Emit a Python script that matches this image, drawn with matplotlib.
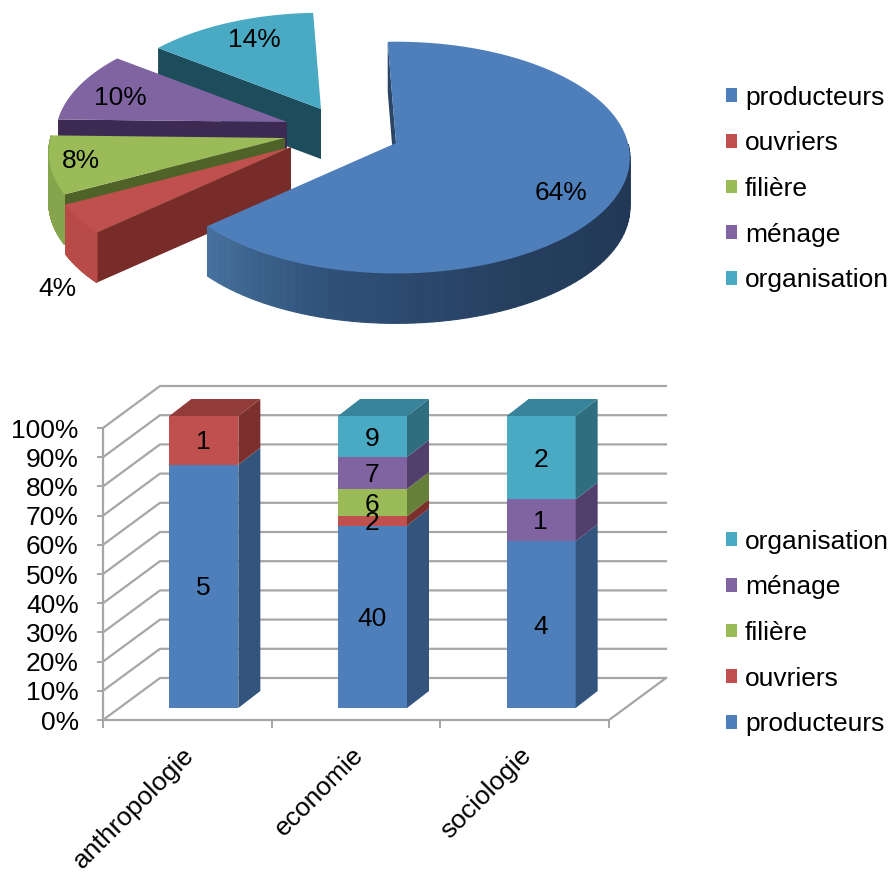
import matplotlib
matplotlib.use('Agg')
import matplotlib.pyplot as plt
import numpy as np
from matplotlib.colors import to_rgb
from matplotlib.patches import Patch, Polygon
from matplotlib.ticker import PercentFormatter
from matplotlib.transforms import ScaledTranslation

plt.rcParams['font.family'] = ['Liberation Sans', 'DejaVu Sans']

# data
series = ['producteurs', 'ouvriers', 'filière', 'ménage', 'organisation']
pie_values = [64, 4, 8, 10, 14]
disciplines = ['anthropologie', 'economie', 'sociologie']
producteurs = [5, 40, 4]
ouvriers = [1, 2, 0]
filiere = [0, 6, 0]
menage = [0, 7, 1]
organisation = [0, 9, 2]
bar_counts = [producteurs, ouvriers, filiere, menage, organisation]

# colours per series
top_col = ['#4f7fbb', '#c0504d', '#9bbb59', '#8064a2', '#4aaac4']
pie_side = ['#2a4566', '#772c2a', '#4f6228', '#3d2a52', '#1d4c5b']
pie_rim = ['#2a4566', '#b84b48', '#86a44c', '#3d2a52', '#1d4c5b']
bar_side = ['#33547d', '#7b302d', '#667f39', '#533f6e', '#2f6e80']
bar_top = ['#33547d', '#923c39', '#667f39', '#533f6e', '#37839a']
grid_col = '#a6a6a6'

W, H = 895, 872
FS = 19

# pie layout, pixels
RX, RY, K = 232, 114, 0.1255
THICK = 50
START = -2.3
pie_apex = [(396, 143), (291, 147), (285, 138), (287, 122), (321, 109)]
pie_scale = [1, 1.03, 1.01, 0.99, 0.95]
pie_label_pos = [(561, 193), (57, 289), (81, 161), (120, 98), (254, 40)]

fig = plt.figure(figsize=(W / 100, H / 100), dpi=100)

# --- bar chart ---
ax = fig.add_axes([103 / W, (H - 720) / H, 506 / W, 292 / H])
ax.set_xlim(-0.5, 2.5)
ax.set_ylim(0, 100)
px_x = 168.67  # pixels per category
px_y = 2.92    # pixels per percent

wall_dx, wall_dy = 57 / px_x, 42 / px_y
for g in range(0, 101, 10):
    ax.plot([-0.5, -0.5 + wall_dx, 2.5 + wall_dx], [g, g + wall_dy, g + wall_dy],
            color=grid_col, lw=1.6, clip_on=False, zorder=1)
ax.plot([2.5, 2.5 + wall_dx], [0, wall_dy], color=grid_col, lw=1.6, clip_on=False, zorder=1)

bar_w = 69 / px_x
shift_x, shift_y = 16.5 / px_x, 12 / px_y
dep_x, dep_y = 22 / px_x, 17 / px_y
counts = np.array(bar_counts, dtype=float)
pct = counts / counts.sum(axis=0) * 100
bottoms = np.vstack([np.zeros(3), np.cumsum(pct, axis=0)[:-1]])
x = np.arange(len(disciplines))

for s in range(len(series)):
    ax.bar(x + shift_x, pct[s], bottom=bottoms[s] + shift_y, width=bar_w,
           color=top_col[s], clip_on=False, zorder=3, lw=0)
    for i in x:
        if counts[s, i] == 0:
            continue
        b = bottoms[s, i] + shift_y
        t = b + pct[s, i]
        xr = i + shift_x + bar_w / 2
        ax.add_patch(Polygon([(xr, b), (xr + dep_x, b + dep_y), (xr + dep_x, t + dep_y), (xr, t)],
                             facecolor=bar_side[s], lw=0, clip_on=False, zorder=3))
        if bottoms[s, i] + pct[s, i] > 99.9:
            xl = xr - bar_w
            ax.add_patch(Polygon([(xl, t), (xr, t), (xr + dep_x, t + dep_y), (xl + dep_x, t + dep_y)],
                                 facecolor=bar_top[s], lw=0, clip_on=False, zorder=3))
for s in range(len(series)):
    for i in x:
        if counts[s, i] > 0:
            ax.text(i + shift_x - 0.003, bottoms[s, i] + shift_y + pct[s, i] / 2 - 0.7, f'{int(counts[s, i])}',
                    ha='center', va='center', fontsize=FS, color='black', zorder=5)

for side in ['top', 'right']:
    ax.spines[side].set_visible(False)
for side in ['left', 'bottom']:
    ax.spines[side].set_color(grid_col)
    ax.spines[side].set_linewidth(1.6)
ax.yaxis.set_major_formatter(PercentFormatter(100, decimals=0))
ax.set_yticks(range(0, 101, 10))
ax.tick_params(axis='y', length=4.5, width=1.4, color=grid_col, pad=13, labelsize=FS)
ax.set_xticks(x, disciplines, rotation=45, ha='right', rotation_mode='anchor', fontsize=FS)
ax.tick_params(axis='x', which='major', length=0, pad=20)
ax.set_xticks([-0.5, 0.5, 1.5, 2.5], minor=True)
ax.tick_params(axis='x', which='minor', length=6, width=1.4, color=grid_col)
nudge = ScaledTranslation(-5 / 100, 5 / 100, fig.dpi_scale_trans)
for lab in ax.get_xticklabels():
    lab.set_transform(lab.get_transform() + nudge)
ax.patch.set_alpha(0)

# --- exploded 3D pie, drawn on a pixel overlay ---
ov = fig.add_axes([0, 0, 1, 1])
ov.set_xlim(0, W)
ov.set_ylim(H, 0)
ov.axis('off')


def project(theta, apex, scale):
    # theta in degrees clockwise from the top, tilted disc with a little perspective
    t = np.radians(theta)
    u, v = np.sin(t), -np.cos(t)
    w = 1 - K * v
    return apex[0] + RX * scale * u / w, apex[1] + RY * scale * v / w


def rim_colour(s, frac):
    if s != 0:
        return pie_rim[s]
    # blue rim goes from dark on the right to lighter at the cut end
    stops = [(0.0, '#1f3552'), (0.45, '#263f5f'), (0.75, '#2f5178'), (1.0, '#47729f')]
    fr = [p[0] for p in stops]
    rgb = np.array([to_rgb(p[1]) for p in stops])
    return tuple(np.interp(frac, fr, rgb[:, c]) for c in range(3))


edges = START + np.cumsum([0] + pie_values) * 3.6
for s in reversed(range(len(series))):
    a0, a1 = edges[s], edges[s + 1]
    apex, scale = pie_apex[s], pie_scale[s]
    th = np.linspace(a0, a1, 120)
    ox, oy = project(th, apex, scale)

    # cut face
    ov.add_patch(Polygon([apex, (ox[0], oy[0]), (ox[0], oy[0] + THICK), (apex[0], apex[1] + THICK)],
                         facecolor=pie_side[s], lw=0))
    # outer rim, only the part turned to the viewer
    for j in range(len(th) - 1):
        if np.cos(np.radians(th[j])) > 0.02:
            continue
        frac = (th[j] - 90) / (edges[1] - 90)
        c = rim_colour(s, np.clip(frac, 0, 1))
        ov.add_patch(Polygon([(ox[j], oy[j]), (ox[j + 1], oy[j + 1]),
                              (ox[j + 1], oy[j + 1] + THICK), (ox[j], oy[j] + THICK)],
                             facecolor=c, edgecolor=c, lw=0.8))
    # top face
    ov.add_patch(Polygon([apex] + list(zip(ox, oy)), facecolor=top_col[s], lw=0))

for s, v in enumerate(pie_values):
    ov.text(*pie_label_pos[s], f'{v}%', ha='center', va='center', fontsize=FS, color='black')


# --- legends ---
def add_legend(names, idx, center_y):
    handles = [Patch(facecolor=top_col[i], lw=0) for i in idx]
    leg = fig.legend(handles, names, loc='center left', bbox_to_anchor=(726 / W, 1 - center_y / H),
                     frameon=False, fontsize=FS, handlelength=0.42, handleheight=0.42,
                     handletextpad=0.3, labelspacing=0.82, borderpad=0, borderaxespad=0)
    return leg


add_legend(series, [0, 1, 2, 3, 4], 189)
add_legend(series[::-1], [4, 3, 2, 1, 0], 633)

fig.savefig('out.png', dpi=100)
